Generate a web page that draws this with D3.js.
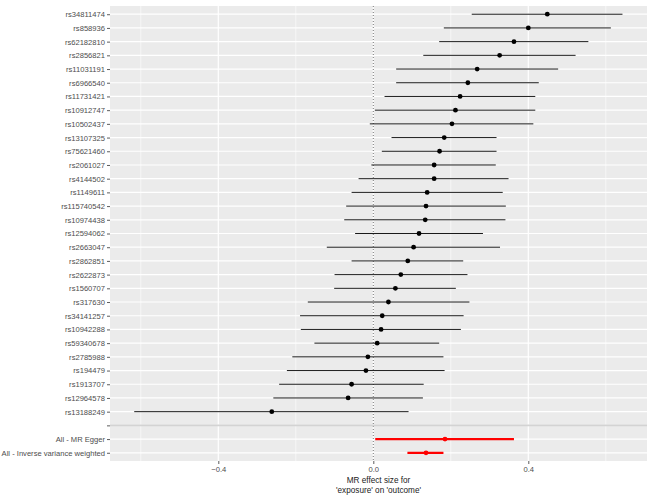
<!DOCTYPE html>
<html>
<head>
<meta charset="utf-8">
<script src="https://cdn.jsdelivr.net/npm/d3@7"></script>
<style>
  body { margin: 0; background: #fff; }
  text { font-family: "Liberation Sans", Arial, sans-serif; }
</style>
</head>
<body>
<div id="chart"></div>
<script>
// SNP labels, top to bottom, then the blank separator and the two summary rows
var snps = ["rs34811474", "rs858936", "rs62182810", "rs2856821", "rs11031191", "rs6966540",
  "rs11731421", "rs10912747", "rs10502437", "rs13107325", "rs75621460", "rs2061027",
  "rs4144502", "rs1149611", "rs115740542", "rs10974438", "rs12594062", "rs2663047",
  "rs2862851", "rs2622873", "rs1560707", "rs317630", "rs34141257", "rs10942288",
  "rs59340678", "rs2785988", "rs194479", "rs1913707", "rs12964578", "rs13188249",
  "", "All - MR Egger", "All - Inverse variance weighted"];

// effect estimates and confidence limits (null for the blank row)
var b  = [0.449, 0.400, 0.363, 0.326, 0.268, 0.244, 0.224, 0.212, 0.203, 0.183, 0.171, 0.157,
  0.157, 0.139, 0.136, 0.134, 0.118, 0.104, 0.089, 0.071, 0.057, 0.039, 0.023, 0.020,
  0.010, -0.014, -0.019, -0.056, -0.065, -0.262, null, 0.185, 0.136];
var lo = [0.254, 0.182, 0.170, 0.129, 0.059, 0.059, 0.029, 0.004, -0.009, 0.047, 0.022, -0.005,
  -0.038, -0.056, -0.070, -0.075, -0.047, -0.120, -0.056, -0.100, -0.101, -0.169, -0.189, -0.187,
  -0.152, -0.209, -0.223, -0.243, -0.258, -0.617, null, 0.005, 0.088];
var up = [0.643, 0.613, 0.555, 0.522, 0.477, 0.427, 0.418, 0.418, 0.413, 0.318, 0.318, 0.316,
  0.349, 0.334, 0.342, 0.341, 0.283, 0.327, 0.232, 0.243, 0.213, 0.248, 0.233, 0.226,
  0.170, 0.181, 0.184, 0.130, 0.128, 0.091, null, 0.363, 0.181];
// 0 = single SNP, 1 = overall estimate
var tot = [0,0,0,0,0,0,0,0,0,0,0,0,0,0,0,0,0,0,0,0,0,0,0,0,0,0,0,0,0,0,0,1,1];

var xTicks = [-0.4, 0.0, 0.4];
var xMinor = [-0.6, -0.2, 0.2, 0.6];

var width = 651, height = 495;
var margin = {top: 6, right: 4, bottom: 34, left: 110};
var pw = width - margin.left - margin.right;
var ph = height - margin.top - margin.bottom;

var svg = d3.select("#chart").append("svg")
  .attr("width", width)
  .attr("height", height);

var g = svg.append("g").attr("transform", "translate(" + margin.left + "," + margin.top + ")");

var x = d3.scaleLinear().domain([-0.6795, 0.7063]).range([0, pw]);
var y = d3.scalePoint().domain(snps).range([0, ph]).padding(0.6);

var rows = snps.map(function (s, i) {
  return {snp: s, b: b[i], lo: lo[i], up: up[i], tot: tot[i]};
});
var colour = ["black", "#e41a1c"];
colour[1] = "#ff0000";

// panel
g.append("rect").attr("width", pw).attr("height", ph).attr("fill", "#ebebeb");

// grid
g.selectAll(".minor").data(xMinor).enter().append("line")
  .attr("x1", x).attr("x2", x).attr("y1", 0).attr("y2", ph)
  .attr("stroke", "#fff").attr("stroke-width", 0.6);
g.selectAll(".majx").data(xTicks).enter().append("line")
  .attr("x1", x).attr("x2", x).attr("y1", 0).attr("y2", ph)
  .attr("stroke", "#fff").attr("stroke-width", 1.2);
g.selectAll(".majy").data(snps).enter().append("line")
  .attr("x1", 0).attr("x2", pw).attr("y1", y).attr("y2", y)
  .attr("stroke", "#fff").attr("stroke-width", 1.2);

// zero line
g.append("line")
  .attr("x1", x(0)).attr("x2", x(0)).attr("y1", 0).attr("y2", ph)
  .attr("stroke", "#555").attr("stroke-width", 0.8).attr("stroke-dasharray", "1,2");

// separator line at the blank row
g.append("line")
  .attr("x1", 0).attr("x2", pw).attr("y1", y("")).attr("y2", y(""))
  .attr("stroke", "#d3d3d3").attr("stroke-width", 1.8);

var est = rows.filter(function (d) { return d.b !== null; });

// error bars
g.selectAll(".bar").data(est).enter().append("line")
  .attr("x1", function (d) { return x(d.lo); })
  .attr("x2", function (d) { return x(d.up); })
  .attr("y1", function (d) { return y(d.snp); })
  .attr("y2", function (d) { return y(d.snp); })
  .attr("stroke", function (d) { return colour[d.tot]; })
  .attr("stroke-width", function (d) { return d.tot ? 2.2 : 0.9; });

// points
g.selectAll(".pt").data(est).enter().append("circle")
  .attr("cx", function (d) { return x(d.b); })
  .attr("cy", function (d) { return y(d.snp); })
  .attr("r", 2.4)
  .attr("fill", function (d) { return colour[d.tot]; });

// axes
var yAxis = g.append("g").call(d3.axisLeft(y).tickSize(3).tickPadding(2));
var xAxis = g.append("g").attr("transform", "translate(0," + ph + ")")
  .call(d3.axisBottom(x).tickValues(xTicks).tickSize(3).tickPadding(3).tickFormat(d3.format(".1f")));

[yAxis, xAxis].forEach(function (a) {
  a.select(".domain").remove();
  a.selectAll(".tick line").attr("stroke", "#333").attr("stroke-width", 0.8);
  a.selectAll(".tick text").attr("fill", "#4d4d4d").style("font-size", "7.6px")
    .style("font-family", "'Liberation Sans', Arial, sans-serif");
});

// axis title
var title = g.append("text")
  .attr("x", pw / 2)
  .attr("y", ph + 22)
  .attr("text-anchor", "middle")
  .attr("fill", "#222")
  .style("font-size", "8.2px");
title.append("tspan").attr("x", pw / 2).text("MR effect size for");
title.append("tspan").attr("x", pw / 2).attr("dy", 9.5).text("'exposure' on 'outcome'");
</script>
</body>
</html>
